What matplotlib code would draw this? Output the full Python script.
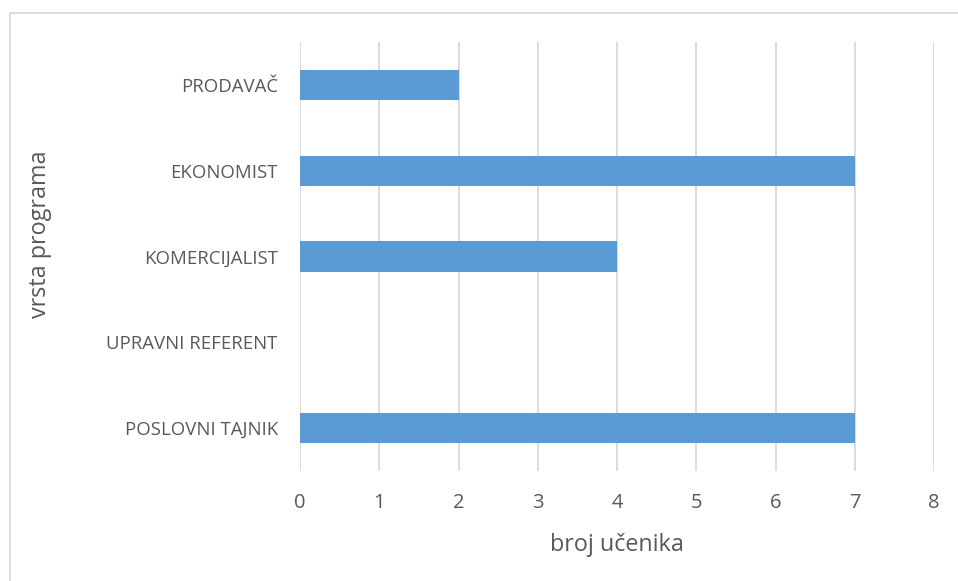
import matplotlib
matplotlib.use("Agg")
import matplotlib.pyplot as plt
from matplotlib.patches import Rectangle

categories = ["POSLOVNI TAJNIK", "UPRAVNI REFERENT", "KOMERCIJALIST", "EKONOMIST", "PRODAVAČ"]
values = [7, 0, 4, 7, 2]
xticks = [0, 1, 2, 3, 4, 5, 6, 7, 8]

plt.rcParams['font.family'] = ['Open Sans', 'DejaVu Sans']
W, H = 958, 581
fig = plt.figure(figsize=(W / 100, H / 100), dpi=100)
ax = fig.add_axes([300 / W, 1 - 471 / H, 634 / W, 429 / H])

txt = '#595959'
ax.barh(range(len(categories)), values, height=0.35, color='#5B9BD5', zorder=3)
ax.set_xlim(0, 8)
ax.set_ylim(-0.5, len(categories) - 0.5)
ax.set_xticks(xticks)
ax.set_xticklabels([str(t) for t in xticks])
ax.set_yticks(range(len(categories)))
ax.set_yticklabels(categories)
ax.grid(axis='x', color='#d9d9d9', linewidth=1.3, zorder=0)
for s in ax.spines.values():
    s.set_visible(False)
ax.tick_params(axis='both', length=0, colors=txt, labelsize=13.4)
ax.tick_params(axis='x', pad=16, labelsize=14.5)
ax.tick_params(axis='y', pad=16)

fig.text(617 / W, 1 - 545 / H, "broj učenika", ha='center', va='center', fontsize=16.8, color=txt)
fig.text(40 / W, 1 - 234 / H, "vrsta programa", ha='center', va='center', fontsize=16.8,
         color=txt, rotation=90)

fig.patches.append(Rectangle((10 / W, -0.1), 1.2, 1 - 13 / H + 0.1, transform=fig.transFigure,
                             fill=False, edgecolor='#d9d9d9', linewidth=1.3))

fig.savefig("out.png", dpi=100, facecolor='white')
